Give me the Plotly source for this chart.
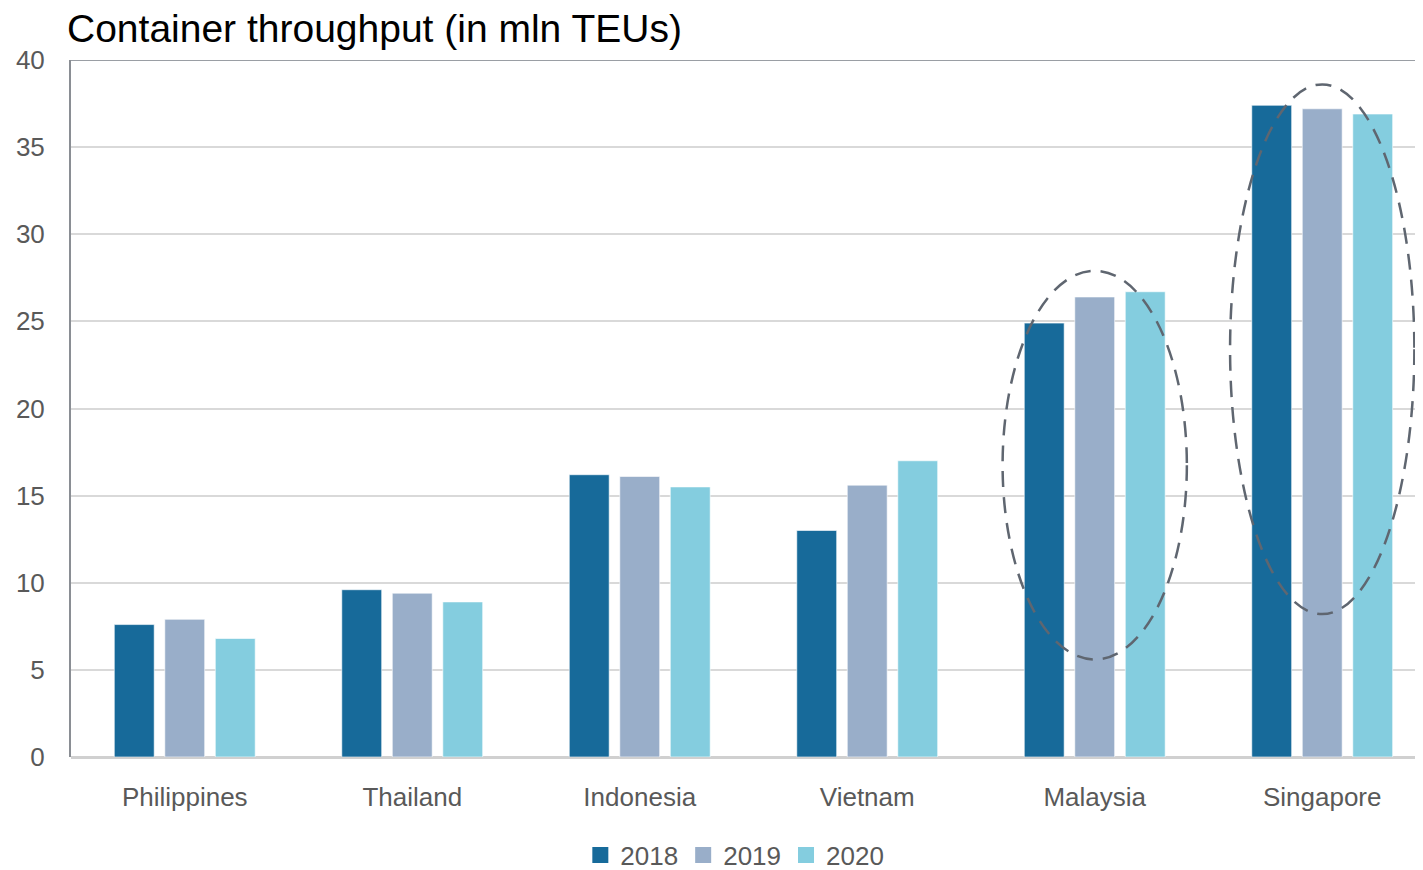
import plotly.graph_objects as go

# data
countries = ['Philippines', 'Thailand', 'Indonesia', 'Vietnam', 'Malaysia', 'Singapore']
years = ['2018', '2019', '2020']
teu_2018 = [7.6, 9.6, 16.2, 13.0, 24.9, 37.4]
teu_2019 = [7.9, 9.4, 16.1, 15.6, 26.4, 37.2]
teu_2020 = [6.8, 8.9, 15.5, 17.0, 26.7, 36.9]
yTicks = [0, 5, 10, 15, 20, 25, 30, 35, 40]

# dashed highlight rings: (country, low, high) in mln TEUs
highlights = [('Malaysia', 5.6, 27.9), ('Singapore', 8.2, 38.6)]

colours = ['#176a9a', '#99aec9', '#84cddf']
font = 'Liberation Sans, Arial, sans-serif'
textCol = '#595959'

# page body adds an 8px margin, so the figure is a touch smaller
W, H = 1415, 862

fig = go.Figure()
for year, vals, col in zip(years, [teu_2018, teu_2019, teu_2020], colours):
    fig.add_trace(go.Bar(
        x=countries, y=vals, name=year, showlegend=False,
        marker=dict(color=col, line=dict(color='rgba(255,255,255,0.6)', width=1)),
    ))
    # square legend swatch
    fig.add_trace(go.Scatter(
        x=[None], y=[None], mode='markers', name=year,
        marker=dict(symbol='square', size=17, color=col),
    ))

for country, lo, hi in highlights:
    i = countries.index(country)
    fig.add_shape(
        type='circle', xref='x', yref='y',
        x0=i - 0.405, x1=i + 0.405, y0=lo, y1=hi,
        line=dict(color='#5f6670', width=2.5, dash='16px,10px'),
    )

fig.update_layout(
    width=W, height=H,
    margin=dict(l=63, r=0, t=52, b=113, autoexpand=False),
    paper_bgcolor='white', plot_bgcolor='white',
    barmode='group', bargap=0.334, bargroupgap=0.21,
    font=dict(family=font, color=textCol, size=26),
    title=dict(
        text='Container throughput (in mln TEUs)',
        font=dict(family=font, color='black', size=39),
        x=59/W, xanchor='left', xref='container',
        y=1 - 20/H, yanchor='middle', yref='container',
    ),
    legend=dict(
        orientation='h', xref='paper', x=0.491, xanchor='center',
        y=-0.1406, yanchor='middle', font=dict(size=26, color=textCol),
        traceorder='normal', itemwidth=30,
    ),
    showlegend=True,
)

fig.update_xaxes(
    range=[-0.5, 5.443],
    showline=False, showgrid=False, ticks='',
    tickfont=dict(size=26, color=textCol), tickangle=0,
    ticklabelstandoff=22,
)
fig.update_yaxes(
    range=[0, 40], tickvals=yTicks,
    showgrid=True, gridcolor='#d9d9d9', gridwidth=2,
    showline=True, linecolor='#8a8e94', linewidth=2,
    zeroline=True, zerolinecolor='#d0d0d0', zerolinewidth=3,
    ticks='', tickfont=dict(size=26, color=textCol),
    ticklabelstandoff=19,
)
# darker frame line across the top of the plot area
fig.add_shape(type='line', xref='paper', yref='y', x0=0, x1=1, y0=40, y1=40,
              line=dict(color='#9a9ea4', width=2))

fig.write_html('out.html')
